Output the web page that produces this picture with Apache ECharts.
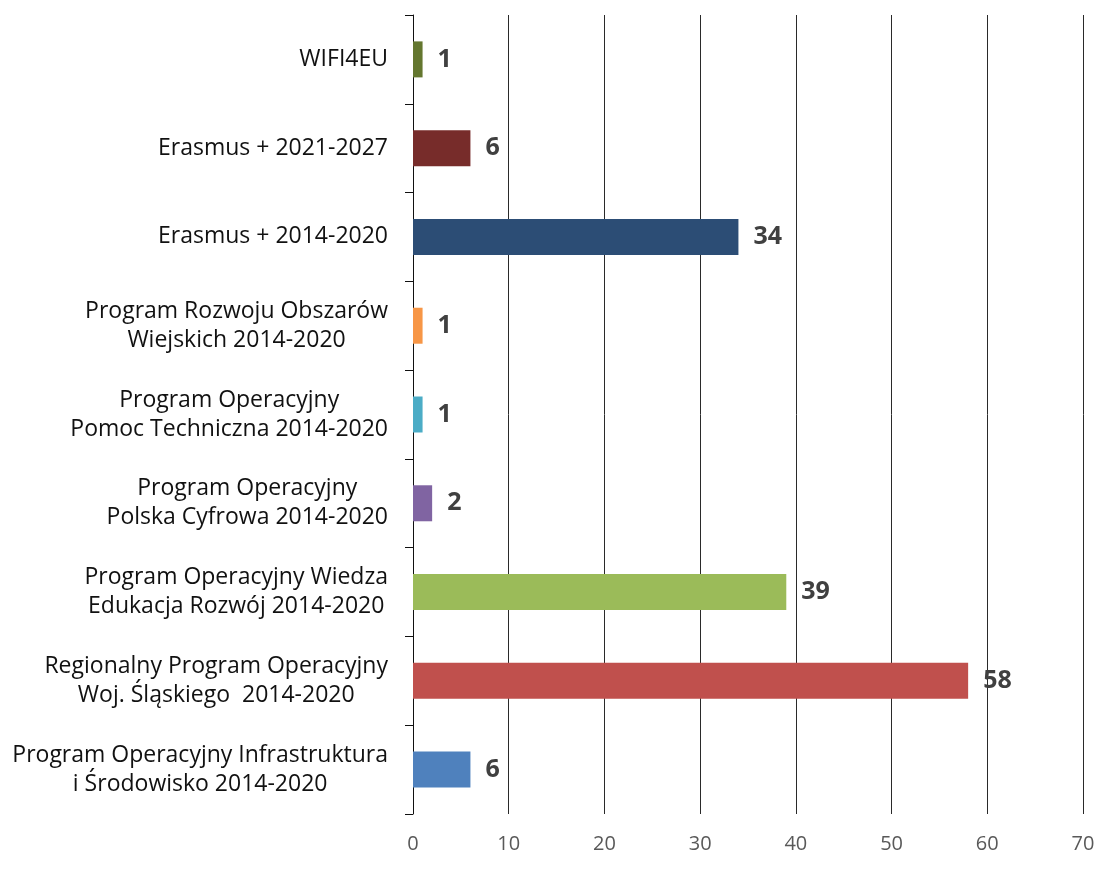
<!DOCTYPE html>
<html>
<head>
<meta charset="utf-8">
<script src="https://cdn.jsdelivr.net/npm/echarts@6/dist/echarts.min.js"></script>
<style>
    html, body { margin: 0; padding: 0; background: #fff; }
    #chart { width: 1102px; height: 879px; }
</style>
</head>
<body>
<div id="chart"></div>
<script>
    // top-down order, as in the picture
    var categories = [
        "WIFI4EU",
        "Erasmus + 2021-2027",
        "Erasmus + 2014-2020",
        "Program Rozwoju Obszarów\nWiejskich 2014-2020",
        "Program Operacyjny\nPomoc Techniczna 2014-2020",
        "Program Operacyjny\nPolska Cyfrowa 2014-2020",
        "Program Operacyjny Wiedza\nEdukacja Rozwój 2014-2020",
        "Regionalny Program Operacyjny\nWoj. Śląskiego  2014-2020",
        "Program Operacyjny Infrastruktura\ni Środowisko 2014-2020"
    ];
    var values = [1, 6, 34, 1, 1, 2, 39, 58, 6];
    var colors = ["#64772F", "#772C2A", "#2C4D75", "#F79646", "#4BACC6", "#8064A2", "#9BBB59", "#C0504D", "#4F81BD"];

    var chart = echarts.init(document.getElementById("chart"));
    chart.setOption({
        animation: false,
        textStyle: { fontFamily: "Open Sans" },
        grid: { left: 413, right: 19, top: 15, bottom: 65 },
        xAxis: {
            type: "value",
            min: 0,
            max: 70,
            interval: 10,
            axisLine: { show: false },
            axisTick: { show: false },
            splitLine: { show: true, lineStyle: { color: "#2a2a2a", width: 1 } },
            axisLabel: { color: "#595959", fontSize: 20, margin: 20 }
        },
        yAxis: {
            type: "category",
            inverse: true,
            data: categories,
            axisLine: { show: true, lineStyle: { color: "#111", width: 1 } },
            axisTick: { show: true, length: 8, lineStyle: { color: "#111" } },
            axisLabel: {
                margin: 25,
                formatter: function (v) {
                    return v.split("\n").map(function (s) { return "{c|" + s + "}"; }).join("\n");
                },
                rich: {
                    c: { align: "center", fontSize: 23, lineHeight: 29, color: "#111", fontFamily: "Open Sans" }
                }
            }
        },
        series: [{
            type: "bar",
            barWidth: 36,
            data: values.map(function (v, i) {
                return { value: v, itemStyle: { color: colors[i] } };
            }),
            label: {
                show: true,
                position: "right",
                distance: 15,
                fontSize: 25,
                fontWeight: "bold",
                color: "#404040"
            }
        }]
    });
</script>
</body>
</html>
